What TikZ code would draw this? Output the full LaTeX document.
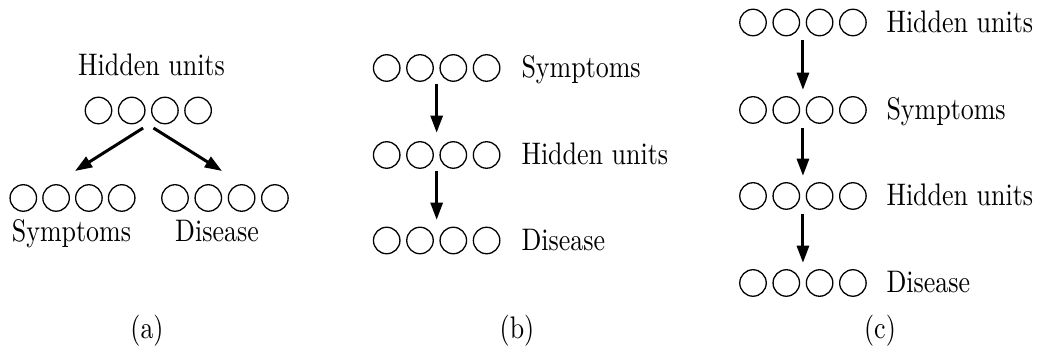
\documentclass[tikz,border=0pt]{standalone}
\usepackage{graphicx}
\usetikzlibrary{arrows.meta,fit}
\newcommand{\tx}[1]{\scalebox{1}[1.2]{#1}}
\begin{document}
\begin{tikzpicture}[x=0.385pt,y=-0.385pt,
  unit/.style={circle,draw,line width=0.5pt,minimum size=10.2pt,inner sep=0pt},
  rowbox/.style={inner sep=0pt,draw=none},
  arr/.style={line width=1.15pt,-{Triangle[length=6.6pt,width=4.6pt]}},
  lbl/.style={inner sep=0pt,font=\fontsize{10}{12}\selectfont},
]
\path[use as bounding box] (0,0) rectangle (1037,347);
% ---------- (a)
\foreach \i/\x in {1/98.5,2/131.7,3/164.9,4/198.1} \node[unit] (at\i) at (\x,110.5) {};
\foreach \i/\x in {1/23.3,2/56.1,3/88.9,4/121.7} \node[unit] (al\i) at (\x,198) {};
\foreach \i/\x in {1/175,2/208.3,3/241.6,4/274.9} \node[unit] (ar\i) at (\x,198) {};
\node[rowbox,fit=(at1)(at4)] (atop) {};
\coordinate (aLend) at (75,171);
\coordinate (aRend) at (222,171);
\draw[arr] ([xshift=-2pt,yshift=-1.2pt]atop.south) -- (aLend);
\draw[arr] ([xshift=2pt,yshift=-1.2pt]atop.south) -- (aRend);
\node[lbl,anchor=base] (ahid) at (151.5,76) {\tx{Hidden units}};
\node[lbl,anchor=base] (asym) at (71.5,242) {\tx{Symptoms}};
\node[lbl,anchor=base] (adis) at (217,242) {\tx{Disease}};
\node[lbl,anchor=base] (capa) at (147,339) {\tx{(a)}};
% ---------- (b)
\foreach \r/\y in {1/68,2/155,3/240.5}{
  \foreach \i/\x in {1/386.7,2/420,3/453.3,4/486.6} \node[unit] (b\r\i) at (\x,\y) {};
}
\node[rowbox,fit=(b11)(b14)] (brow1) {};
\node[rowbox,fit=(b21)(b24)] (brow2) {};
\node[rowbox,fit=(b31)(b34)] (brow3) {};
\draw[arr,shorten <=0.6pt,shorten >=3pt] (brow1.south) -- (brow2.north);
\draw[arr,shorten <=0.6pt,shorten >=2.4pt] (brow2.south) -- (brow3.north);
\node[lbl,anchor=base west] (bsym) at (521,78) {\tx{Symptoms}};
\node[lbl,anchor=base west] (bhid) at (521,165) {\tx{Hidden units}};
\node[lbl,anchor=base west] (bdis) at (521,250.5) {\tx{Disease}};
\node[lbl,anchor=base] (capb) at (517,339) {\tx{(b)}};
% ---------- (c)
\foreach \r/\y in {1/22.5,2/110,3/196,4/283}{
  \foreach \i/\x in {1/753,2/786.3,3/819.6,4/852.9} \node[unit] (c\r\i) at (\x,\y) {};
}
\node[rowbox,fit=(c11)(c14)] (crow1) {};
\node[rowbox,fit=(c21)(c24)] (crow2) {};
\node[rowbox,fit=(c31)(c34)] (crow3) {};
\node[rowbox,fit=(c41)(c44)] (crow4) {};
\draw[arr,shorten <=1.2pt,shorten >=2.2pt] (crow1.south) -- (crow2.north);
\draw[arr,shorten <=1.2pt,shorten >=2.2pt] (crow2.south) -- (crow3.north);
\draw[arr,shorten <=1.2pt,shorten >=2.2pt] (crow3.south) -- (crow4.north);
\node[lbl,anchor=base west] (chid1) at (886,32.5) {\tx{Hidden units}};
\node[lbl,anchor=base west] (csym) at (886,120) {\tx{Symptoms}};
\node[lbl,anchor=base west] (chid2) at (886,206) {\tx{Hidden units}};
\node[lbl,anchor=base west] (cdis) at (886,293) {\tx{Disease}};
\node[lbl,anchor=base] (capc) at (880,339) {\tx{(c)}};
\end{tikzpicture}
\end{document}
